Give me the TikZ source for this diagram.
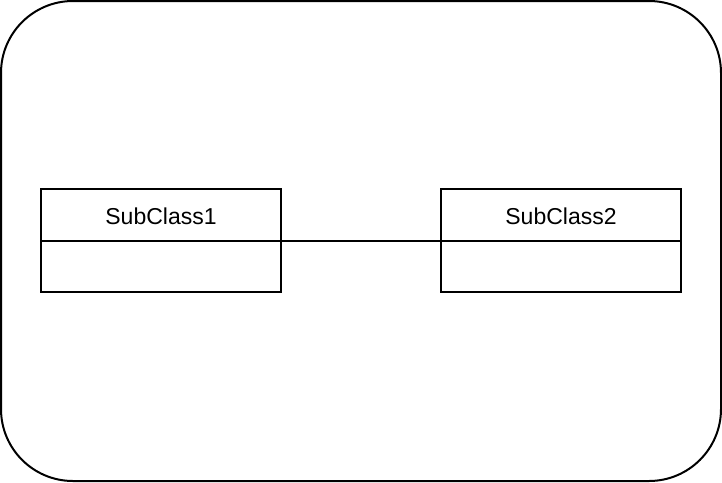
\documentclass[tikz,border=0pt]{standalone}
\usepackage{fontspec}
\setmainfont{Liberation Sans}
\begin{document}
\begin{tikzpicture}[x=1pt,y=-1pt,
  line/.style={line width=2pt,black},
  lbl/.style={font=\fontsize{23}{27}\selectfont,inner sep=0pt,anchor=center}]
\useasboundingbox (0,0) rectangle (722,482);
\draw[line,rounded corners=72pt] (1,1) rectangle (721,481);
% SubClass1
\draw[line] (41,189) rectangle (281,292);
\draw[line] (41,241) -- (281,241);
\node[lbl] (c1) at (161,216) {SubClass1};
\coordinate (c1r) at (281,241);
% SubClass2
\draw[line] (441,189) rectangle (681,292);
\draw[line] (441,241) -- (681,241);
\node[lbl] (c2) at (561,216) {SubClass2};
\coordinate (c2l) at (441,241);
\draw[line] (c1r) -- (c2l);
\end{tikzpicture}
\end{document}
